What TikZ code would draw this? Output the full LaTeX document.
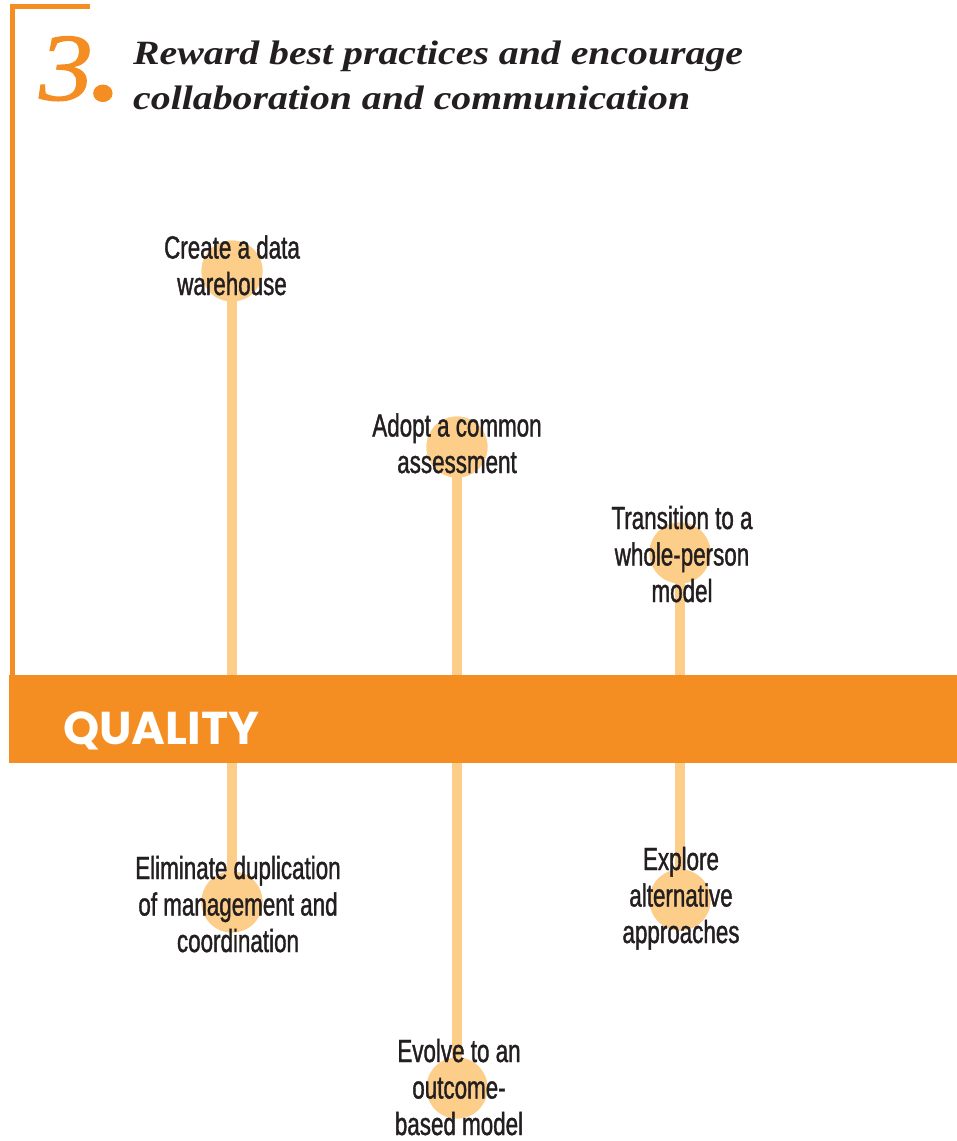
\documentclass[tikz,border=0pt]{standalone}
\usepackage{fontspec}
\newfontfamily\condfont[FakeStretch=0.70, FakeBold=1.2]{Liberation Sans}
\newfontfamily\titlefont[FakeStretch=1.17]{Liberation Serif}
\newfontfamily\numfont[FakeStretch=1.12, FakeBold=1.2]{Liberation Serif}
\newfontfamily\barfont{Poppins}
\definecolor{qorange}{HTML}{F58E22}
\definecolor{qlight}{HTML}{FDCD8A}
\definecolor{qtext}{HTML}{231F20}
\tikzset{
  dot/.style={circle, fill=qlight, minimum size=61pt, inner sep=0pt},
  stem/.style={draw=qlight, line width=10pt},
  lbl/.style={anchor=base, align=center, text=qtext, inner sep=0pt,
              font=\condfont\fontsize{32}{36.5}\selectfont},
}
\begin{document}
\begin{tikzpicture}[x=1pt, y=-1pt]
\useasboundingbox (0,0) rectangle (957,1141);
% circles
\node[dot] (c1) at (232,271) {};
\node[dot] (c2) at (457,447) {};
\node[dot] (c3) at (680,553) {};
\node[dot] (c4) at (232,902) {};
\node[dot] (c5) at (680,900) {};
\node[dot] (c6) at (457,1088) {};
% stems
\draw[stem] (c1.center) -- (c4.center);
\draw[stem] (c2.center) -- (c6.center);
\draw[stem] (c3.center) -- (c5.center);
% redraw circles over the stems
\foreach \n in {c1,c2,c3,c4,c5,c6} {\fill[qlight] (\n) circle (30.5pt);}
% frame line
\draw[qorange, line width=5pt] (12.5,676) -- (12.5,6.5) -- (90,6.5);
% quality bar
\node[fill=qorange, minimum width=948pt, minimum height=88pt, inner sep=0pt,
      anchor=north west] (bar) at (9,675) {};
\node[anchor=base west, inner sep=0pt, text=white,
      font=\barfont\bfseries\fontsize{46}{46}\selectfont] (qual) at (63,744) {QUALITY};
% title
\node[anchor=base west, inner sep=0pt, text=qorange,
      font=\numfont\itshape\fontsize{96}{96}\selectfont] (num) at (39,100)
      {3{\bfseries\fontsize{100}{100}\selectfont.}};
\node[anchor=base west, inner sep=0pt, text=qtext, align=left,
      font=\titlefont\bfseries\itshape\fontsize{34}{45}\selectfont] (title) at (133,109)
      {Reward best practices and encourage\\collaboration and communication};
% labels (anchored at the baseline of the last line)
\node[lbl] (t1) at (232,295) {Create a data\\warehouse};
\node[lbl] (t2) at (457,473) {Adopt a common\\assessment};
\node[lbl] (t3) at (682,602) {Transition to a\\whole-person\\model};
\node[lbl] (t4) at (238,952) {Eliminate duplication\\of management and\\coordination};
\node[lbl] (t5) at (681,943) {Explore\\alternative\\approaches};
\node[lbl] (t6) at (459,1135) {Evolve to an\\outcome-\\based model};
\end{tikzpicture}
\end{document}
